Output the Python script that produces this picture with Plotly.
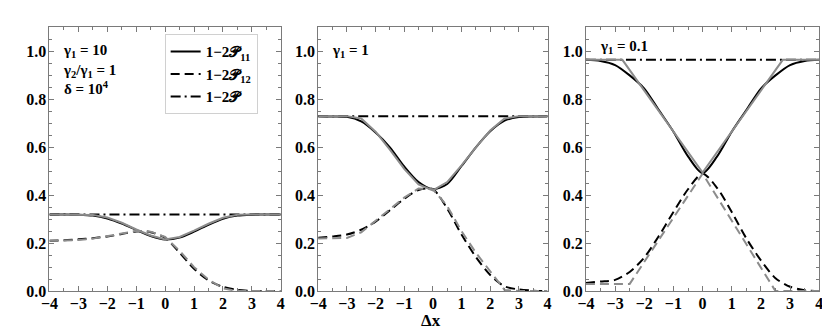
import plotly.graph_objects as go

# ---------------- data ----------------
x = [-4, -3.5, -3, -2.5, -2, -1.5, -1, -0.5, 0, 0.5, 1, 1.5, 2, 2.5, 3, 3.5, 4]

# panel 1: gamma1 = 10
p1_total = 0.32
p1_p11_black = [0.32, 0.32, 0.319, 0.315, 0.303, 0.282, 0.255, 0.23, 0.215, 0.223, 0.248, 0.277, 0.302, 0.315, 0.319, 0.32, 0.32]
p1_p11_gray = [0.32, 0.32, 0.32, 0.318, 0.307, 0.285, 0.257, 0.232, 0.215, 0.226, 0.252, 0.281, 0.306, 0.319, 0.32, 0.32, 0.32]
p1_p12_black = [0.21, 0.212, 0.216, 0.221, 0.228, 0.238, 0.249, 0.246, 0.222, 0.16, 0.093, 0.045, 0.018, 0.005, 0.001, 0.0, 0.0]
p1_p12_gray = [0.21, 0.21, 0.213, 0.219, 0.228, 0.24, 0.251, 0.248, 0.226, 0.168, 0.1, 0.048, 0.012, 0.0, 0.0, 0.0, 0.0]

# panel 2: gamma1 = 1
p2_total = 0.73
p2_p11_black = [0.73, 0.729, 0.727, 0.708, 0.662, 0.6, 0.52, 0.455, 0.425, 0.447, 0.522, 0.6, 0.667, 0.711, 0.726, 0.729, 0.73]
p2_p11_gray = [0.73, 0.73, 0.73, 0.72, 0.665, 0.59, 0.51, 0.445, 0.42, 0.455, 0.525, 0.6, 0.67, 0.72, 0.73, 0.73, 0.73]
p2_p12_black = [0.223, 0.228, 0.236, 0.256, 0.29, 0.337, 0.385, 0.422, 0.425, 0.344, 0.236, 0.142, 0.067, 0.02, 0.007, 0.002, 0.0]
p2_p12_gray = [0.22, 0.22, 0.222, 0.245, 0.293, 0.342, 0.39, 0.428, 0.425, 0.355, 0.25, 0.16, 0.08, 0.005, 0.0, 0.0, 0.0]

# panel 3: gamma1 = 0.1
p3_total = 0.965
p3_p11_black = [0.965, 0.96, 0.943, 0.9, 0.845, 0.755, 0.665, 0.562, 0.492, 0.562, 0.665, 0.755, 0.845, 0.9, 0.943, 0.96, 0.965]
p3_x_gray = [-4, -2.75, 0, 2.75, 4]
p3_p11_gray = [0.965, 0.965, 0.495, 0.965, 0.965]
p3_p12_black = [0.034, 0.04, 0.047, 0.08, 0.14, 0.23, 0.33, 0.425, 0.49, 0.43, 0.33, 0.22, 0.128, 0.054, 0.018, 0.004, 0.0]
p3_x12_gray = [-4, -2.5, 0, 2.5, 4]
p3_p12_gray = [0.03, 0.03, 0.49, 0.0, 0.0]

panel_labels = [
    "<b>γ<sub>1</sub> = 10<br>γ<sub>2</sub>/γ<sub>1</sub> = 1<br>δ = 10<sup>4</sup></b>",
    "<b>γ<sub>1</sub> = 1</b>",
    "<b>γ<sub>1</sub> = 0.1</b>",
]
legend_names = ["<b>1−2𝒫<sub>11</sub></b>", "<b>1−2𝒫<sub>12</sub></b>", "<b>1−2𝒫</b>"]
x_ticks = [-4, -3, -2, -1, 0, 1, 2, 3, 4]
x_ticklabels = ["−4", "−3", "−2", "−1", "0", "1", "2", "3", "4"]
y_ticks = [0.0, 0.2, 0.4, 0.6, 0.8, 1.0]
y_ticklabels = ["0.0", "0.2", "0.4", "0.6", "0.8", "1.0"]

# ---------------- styling ----------------
FONT = "Liberation Serif, Times New Roman, serif"
BLACK = "#000000"
GRAY = "#8c8c8c"
AX = "#7a7a7a"
DASH = "9px,5px"
DASHDOT = "10px,4px,2px,4px"

panels = [
    dict(total=p1_total, b11=(x, p1_p11_black), g11=(x, p1_p11_gray), b12=(x, p1_p12_black), g12=(x, p1_p12_gray)),
    dict(total=p2_total, b11=(x, p2_p11_black), g11=(x, p2_p11_gray), b12=(x, p2_p12_black), g12=(x, p2_p12_gray)),
    dict(total=p3_total, b11=(x, p3_p11_black), g11=(p3_x_gray, p3_p11_gray), b12=(x, p3_p12_black), g12=(p3_x12_gray, p3_p12_gray)),
]

W, H = 830, 332
xdom = [(33 / W, 268 / W), (306 / W, 539 / W), (578 / W, 815 / W)]
ydom = (1 - 291 / H, 1 - 20 / H)

fig = go.Figure()
for i, p in enumerate(panels):
    xa = "x" if i == 0 else f"x{i+1}"
    ya = "y" if i == 0 else f"y{i+1}"
    first = i == 0
    fig.add_trace(go.Scatter(x=p["b11"][0], y=p["b11"][1], mode="lines", line=dict(color=BLACK, width=2, shape="spline", smoothing=0.8),
                             name=legend_names[0], showlegend=first, legendrank=1, xaxis=xa, yaxis=ya))
    fig.add_trace(go.Scatter(x=p["b12"][0], y=p["b12"][1], mode="lines", line=dict(color=BLACK, width=2, dash=DASH, shape="spline", smoothing=0.8),
                             name=legend_names[1], showlegend=first, legendrank=2, xaxis=xa, yaxis=ya))
    fig.add_trace(go.Scatter(x=[x[0], x[-1]], y=[p["total"], p["total"]], mode="lines", line=dict(color=BLACK, width=2, dash=DASHDOT),
                             name=legend_names[2], showlegend=first, legendrank=3, xaxis=xa, yaxis=ya))
    fig.add_trace(go.Scatter(x=p["g11"][0], y=p["g11"][1], mode="lines", line=dict(color=GRAY, width=2),
                             showlegend=False, xaxis=xa, yaxis=ya))
    fig.add_trace(go.Scatter(x=p["g12"][0], y=p["g12"][1], mode="lines", line=dict(color=GRAY, width=2, dash=DASH),
                             showlegend=False, xaxis=xa, yaxis=ya))

axis_common = dict(showgrid=False, zeroline=False, showline=True, linecolor=AX, linewidth=1,
                   mirror="allticks", ticks="inside", tickcolor=AX, ticklen=5, tickwidth=1,
                   tickfont=dict(family=FONT, size=16, color="black"))
for i in range(3):
    sx = "" if i == 0 else str(i + 1)
    fig.layout["xaxis" + sx] = dict(axis_common, domain=xdom[i], range=[-4, 4], tickvals=x_ticks,
                                    ticktext=[f"<b>{t}</b>" for t in x_ticklabels], anchor="y" + sx,
                                    ticklabelstandoff=-2,
                                    minor=dict(dtick=0.5, ticks="inside", ticklen=3, tickcolor=AX))
    fig.layout["yaxis" + sx] = dict(axis_common, domain=ydom, range=[0, 1.1], tickvals=y_ticks,
                                    ticktext=[f"<b>{t}</b>" for t in y_ticklabels], anchor="x" + sx,
                                    ticklabelstandoff=-1,
                                    minor=dict(dtick=0.05, ticks="inside", ticklen=3, tickcolor=AX))

annotations = []
label_y = [33, 33, 29]
for i, lab in enumerate(panel_labels):
    annotations.append(dict(text=lab, xref="paper", yref="paper", x=(xdom[i][0] * W + 12) / W, y=1 - label_y[i] / H,
                            xanchor="left", yanchor="top", showarrow=False, align="left",
                            font=dict(family=FONT, size=15, color="black")))
annotations.append(dict(text="<b>Δx</b>", xref="paper", yref="paper", x=421 / W, y=1 - 321 / H,
                        xanchor="center", yanchor="middle", showarrow=False,
                        font=dict(family=FONT, size=17, color="black")))

fig.update_layout(
    width=W, height=H, margin=dict(l=0, r=0, t=0, b=0),
    plot_bgcolor="white", paper_bgcolor="white",
    annotations=annotations,
    legend=dict(x=150 / W, y=1 - 27 / H, xanchor="left", yanchor="top",
                bgcolor="white", bordercolor="#d0d0d0", borderwidth=1,
                font=dict(family=FONT, size=15, color="black"),
                itemwidth=30, tracegroupgap=0),
)

fig.write_html("out.html")
